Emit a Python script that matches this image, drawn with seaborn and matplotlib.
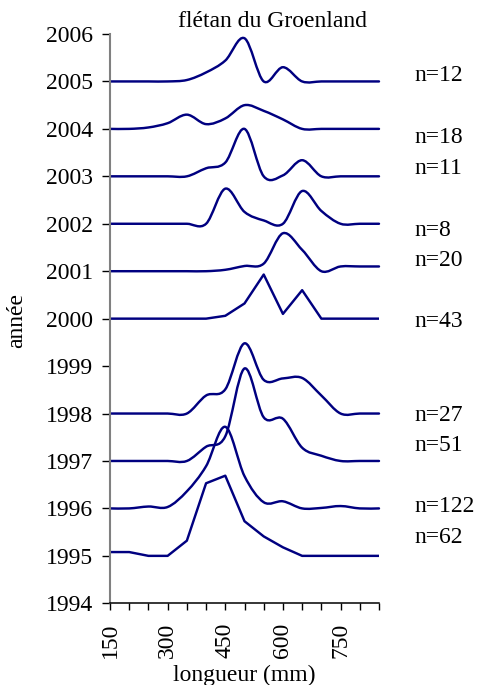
import matplotlib
matplotlib.use("Agg")
import numpy as np
import pandas as pd
import matplotlib.pyplot as plt
import matplotlib.transforms as mtransforms
from matplotlib.path import Path
from matplotlib.patches import PathPatch
import seaborn as sns

# ---------------- data ----------------
length_mm = [150, 200, 250, 300, 350, 400, 450, 500, 550, 600, 650, 700, 750, 800, 850]

years = [2005, 2004, 2003, 2002, 2001, 2000, 1998, 1997, 1996, 1995]
counts = ["n=12", "n=18", "n=11", "n=8", "n=20", "n=43", "n=27", "n=51", "n=122", "n=62"]

freq_2005 = [0, 0, 0, 0, 0.03, 0.19, 0.44, 0.91, 0, 0.30, 0, 0, 0, 0, 0]
freq_2004 = [0, 0, 0.03, 0.12, 0.30, 0.10, 0.22, 0.50, 0.38, 0.20, 0, 0, 0, 0, 0]
freq_2003 = [0, 0, 0, 0, 0, 0.17, 0.29, 1.00, 0, 0.02, 0.34, 0, 0, 0, 0]
freq_2002 = [0, 0, 0, 0, 0, 0, 0.74, 0.25, 0.07, 0, 0.69, 0.27, 0, 0, 0]
freq_2001 = [0, 0, 0, 0, 0, 0, 0.03, 0.11, 0.16, 0.80, 0.45, 0, 0.10, 0.10, 0.10]
freq_2000 = [0, 0, 0, 0, 0, 0, 0.06, 0.32, 0.93, 0.10, 0.60, 0, 0, 0, 0]
freq_1998 = [0, 0, 0, 0, 0, 0.38, 0.51, 1.48, 0.71, 0.74, 0.75, 0.38, 0, 0, 0]
freq_1997 = [0, 0, 0, 0, 0, 0.30, 0.52, 1.95, 0.92, 0.89, 0.28, 0.11, 0, 0, 0]
freq_1996 = [0, 0, 0.04, 0.03, 0.36, 0.89, 1.72, 0.68, 0.13, 0.15, 0, 0.01, 0.05, 0, 0]
freq_1995 = [0.08, 0.08, 0, 0, 0.32, 1.53, 1.69, 0.73, 0.41, 0.18, 0, 0, 0, 0, 0]

series = [freq_2005, freq_2004, freq_2003, freq_2002, freq_2001,
          freq_2000, freq_1998, freq_1997, freq_1996, freq_1995]
smoothed_years = [2005, 2004, 2003, 2002, 2001, 1998, 1997, 1996]
straight_years = [2000, 1995]

year_ticks = list(range(1994, 2007))
length_ticks = list(range(150, 851, 50))
length_labels = [150, 300, 450, 600, 750]

title = "flétan du Groenland"
x_label = "longueur (mm)"
y_label = "année"

# ---------------- layout / style ----------------
W, H = 481, 685
NAVY = "#000080"
LW = 1.75
FS = 17
# baseline (in years) of each count label
count_label_y = [2005.01, 2003.70, 2003.05, 2001.75, 2001.10, 1999.82,
                 1997.85, 1997.20, 1995.92, 1995.27]

sns.set_theme(style="white")
plt.rcParams["font.family"] = ["Liberation Serif", "DejaVu Serif"]
plt.rcParams["text.color"] = "#000000"

fig = plt.figure(figsize=(W / 100, H / 100), dpi=100)
ax = fig.add_axes([110 / W, 1 - 603.3 / H, (379 - 110) / W, (603.3 - 34) / H])

rows = []
for yr, vals in zip(years, series):
    for x, v in zip(length_mm, vals):
        rows.append({"longueur": x, "année": yr, "niveau": yr + v})
df = pd.DataFrame(rows)


def smooth_path(xs, ys):
    """Excel-style smoothed line (cubic Bezier through the data points)."""
    pts = np.column_stack([xs, ys]).astype(float)
    n = len(pts)
    verts = [pts[0]]
    codes = [Path.MOVETO]
    for i in range(n - 1):
        p_prev = pts[max(i - 1, 0)]
        p0 = pts[i]
        p1 = pts[i + 1]
        p_next = pts[min(i + 2, n - 1)]
        c1 = p0 + (p1 - p_prev) / 6.0
        c2 = p1 - (p_next - p0) / 6.0
        verts += [c1, c2, p1]
        codes += [Path.CURVE4] * 3
    return Path(verts, codes)


for yr in smoothed_years:
    d = df[df["année"] == yr]
    patch = PathPatch(smooth_path(d["longueur"].values, d["niveau"].values),
                      facecolor="none", edgecolor=NAVY, lw=LW,
                      transform=ax.transData, clip_on=False,
                      capstyle="round", joinstyle="round")
    ax.add_patch(patch)

sns.lineplot(data=df[df["année"].isin(straight_years)], x="longueur", y="niveau",
             units="année", estimator=None, color=NAVY, lw=LW, ax=ax,
             legend=False, sort=False)

ax.set_xlim(150, 850)
ax.set_ylim(1994, 2006)
ax.set_xticks(length_ticks)
ax.set_xticklabels([str(t) if t in length_labels else "" for t in length_ticks],
                   rotation=90, fontsize=FS)
ax.set_yticks(year_ticks)
ax.set_yticklabels([str(t) for t in year_ticks], fontsize=FS)
ax.set_xlabel("")
ax.set_ylabel("")

for s in ["top", "right"]:
    ax.spines[s].set_visible(False)
ax.spines["left"].set_color("#808080")
ax.spines["left"].set_linewidth(1.5)
ax.spines["bottom"].set_color("#000000")
ax.spines["bottom"].set_linewidth(1.1)
ax.tick_params(axis="y", direction="out", length=6, width=1, color="#000000",
               pad=6, left=True, labelcolor="#000000")
ax.tick_params(axis="x", direction="out", length=5, width=1, color="#000000",
               pad=9, bottom=True, labelcolor="#000000")
ax.grid(False)
ax.set_facecolor("white")

trans = mtransforms.blended_transform_factory(fig.transFigure, ax.transData)
for lab, yb in zip(counts, count_label_y):
    ax.text(414 / W, yb, lab, transform=trans, ha="left", va="baseline",
            fontsize=FS, color="#000000", clip_on=False)

fig.text(272 / W, 1 - 27.3 / H, title, ha="center", va="baseline", fontsize=FS,
         color="#000000")
fig.text(244 / W, (H - 680.5) / H, x_label, ha="center", va="baseline", fontsize=FS,
         color="#000000")
fig.text(16.5 / W, 1 - 321 / H, y_label, rotation=90, ha="center", va="center",
         fontsize=FS, color="#000000")

fig.savefig("out.png", dpi=100, facecolor="white")
